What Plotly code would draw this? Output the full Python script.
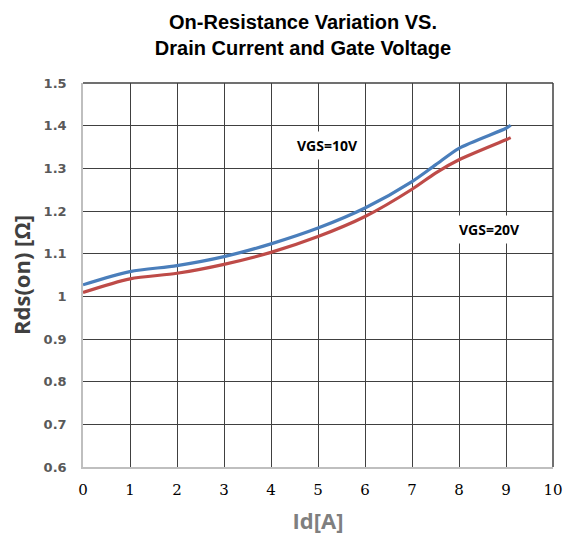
import plotly.graph_objects as go

id_x = [0, 1, 2, 3, 4, 5, 6, 7, 7.5, 8, 9, 9.1]
rds_vgs10 = [1.027, 1.058, 1.072, 1.093, 1.123, 1.160, 1.207, 1.269, 1.308, 1.347, 1.394, 1.401]
rds_vgs20 = [1.009, 1.041, 1.054, 1.075, 1.103, 1.140, 1.187, 1.251, 1.289, 1.320, 1.367, 1.372]
series_names = ["VGS=10V", "VGS=20V"]
label_pos = [(5.2, 1.353), (8.65, 1.156)]

fig = go.Figure()
fig.add_trace(go.Scatter(x=id_x, y=rds_vgs10, mode="lines", name=series_names[0],
                         line=dict(color="#4a7ebb", width=3.2, shape="spline", smoothing=0.8)))
fig.add_trace(go.Scatter(x=id_x, y=rds_vgs20, mode="lines", name=series_names[1],
                         line=dict(color="#be4b48", width=3.2, shape="spline", smoothing=0.8)))

for name, (ax, ay) in zip(series_names, label_pos):
    fig.add_annotation(x=ax, y=ay, text="<b>" + name + "</b>", showarrow=False,
                       font=dict(family="Open Sans, Noto Sans", size=14, color="#000000"),
                       bgcolor="#ffffff", borderpad=4)

fig.update_layout(
    width=572, height=540,
    margin=dict(l=83, r=19, t=83, b=73, autoexpand=False),
    paper_bgcolor="#ffffff", plot_bgcolor="#ffffff",
    showlegend=False,
    title=dict(text="<b>On-Resistance Variation VS.<br>Drain Current and Gate Voltage</b>",
               x=303 / 572, xanchor="center", y=1 - 29 / 540, yanchor="middle",
               font=dict(family="Liberation Sans, Arial", size=20, color="#000000")),
    xaxis=dict(range=[0, 10], dtick=1, tick0=0, showgrid=True, gridcolor="#404040", gridwidth=1,
               showline=True, linecolor="#bfbfbf", linewidth=1.5, mirror=False,
               ticks="outside", ticklen=8, tickcolor="rgba(0,0,0,0)", zeroline=False,
               automargin=False,
               tickfont=dict(family="DejaVu Serif, Liberation Serif", size=15, color="#000000"),
               title=dict(text="<b>Id[A]</b>", standoff=16,
                          font=dict(family="Open Sans, Noto Sans", size=22, color="#7f7f7f"))),
    yaxis=dict(range=[0.6, 1.5], dtick=0.1, tick0=0.6, showgrid=True, gridcolor="#404040", gridwidth=1,
               showline=True, linecolor="#bfbfbf", linewidth=1.5,
               ticks="outside", ticklen=12, tickcolor="rgba(0,0,0,0)", zeroline=False,
               tickformat="~r", automargin=False,
               tickfont=dict(family="DejaVu Sans", size=13, color="#595959", weight="bold"),
               title=dict(text="<b>Rds(on) [Ω]</b>", standoff=7,
                          font=dict(family="Open Sans, Noto Sans", size=22, color="#404040"))),
)
# top and right borders in dark grid color
fig.add_shape(type="line", xref="paper", yref="paper", x0=0, x1=1, y0=1, y1=1,
              line=dict(color="#404040", width=1.5))
fig.add_shape(type="line", xref="paper", yref="paper", x0=1, x1=1, y0=0, y1=1,
              line=dict(color="#404040", width=1.5))

fig.write_html("out.html", config={"displayModeBar": False})

# remove the default page margin so the figure sits at the window's top-left corner
with open("out.html", "r", encoding="utf-8") as f:
    html = f.read()
html = html.replace("<head>", "<head><style>html,body{margin:0;padding:0;}</style>", 1)
with open("out.html", "w", encoding="utf-8") as f:
    f.write(html)
